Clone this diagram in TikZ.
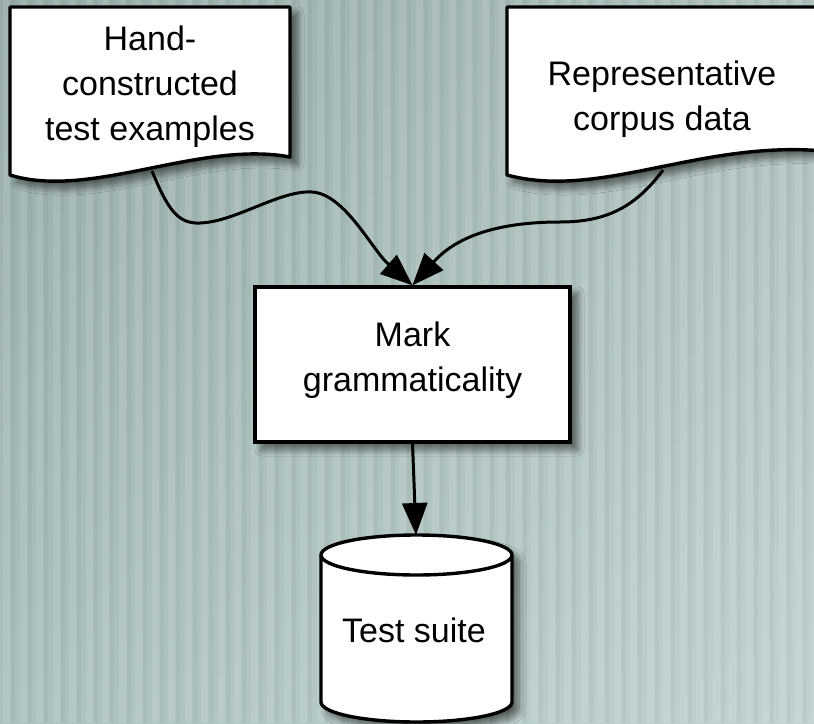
\documentclass[tikz,border=0pt]{standalone}
\usepackage{fontspec}
\setmainfont{Liberation Sans}
\usetikzlibrary{arrows.meta,shadows.blur,shadings}
\definecolor{bgUL}{HTML}{97ACAA}
\definecolor{bgUR}{HTML}{ADC0BE}
\definecolor{bgLL}{HTML}{ABC1BF}
\definecolor{bgLR}{HTML}{C1D3D1}
\tikzset{
  shade box/.style={blur shadow={shadow xshift=7pt, shadow yshift=-7pt, shadow blur radius=7pt, shadow blur steps=12, shadow opacity=55}},
  docshape/.style={fill=white, draw=black, line width=3.4pt, line join=round, shade box},
  procbox/.style={rectangle, fill=white, draw=black, line width=3.4pt, minimum width=315pt, minimum height=155pt, inner sep=0pt, shade box},
  txt/.style={font=\fontsize{34}{45}\selectfont, align=center, inner sep=0pt},
  flow/.style={draw=black, line width=3pt, -{Triangle[length=32pt,width=25pt]}},
}
\begin{document}
\begin{tikzpicture}[x=1pt,y=-1pt]
\useasboundingbox (0,0) rectangle (814,723);
% background
\shade[upper left=bgUL, upper right=bgUR, lower left=bgLL, lower right=bgLR] (0,0) rectangle (814,723);
\foreach \i in {0,...,49} {
  \fill[white, opacity=0.10] (\i*16.5+3,0) rectangle ++(7,723);
  \fill[black, opacity=0.03] (\i*16.5+11,0) rectangle ++(4,723);
}
% documents
\path[docshape] (10,7) -- (290,7) -- (290,157) .. controls (200,140) and (90,200) .. (10,175) -- cycle;
\node[txt] (hand) at (150,87) {Hand-\\constructed\\test examples};
\path[docshape] (507,7) -- (824,7) -- (824,151) .. controls (700,140) and (600,200) .. (507,175) -- cycle;
\node[txt] (corpus) at (662,99) {Representative\\corpus data};
\coordinate (ls) at (152,171);
\coordinate (rs) at (663,170);
% process box
\node[procbox] (mark) at (412.5,364.5) {};
\node[txt] (marktext) at (412.5,360) {Mark\\grammaticality};
% cylinder
\path[docshape] (321,555) -- (321,702) arc[start angle=180, end angle=0, x radius=95.5, y radius=20] -- (512,555) arc[start angle=0, end angle=-180, x radius=95.5, y radius=20] -- cycle;
\draw[line width=3.4pt] (321,555) arc[start angle=180, end angle=0, x radius=95.5, y radius=20];
\coordinate (ct) at (416,535);
\node[txt] (suite) at (414,630) {Test suite};
% connectors
\draw[flow] (ls) .. controls (168,210) and (178,224) .. (200,223)
  .. controls (235,222) and (280,190) .. (312,192)
  .. controls (345,194) and (372,250) .. (mark.north);
\draw[flow] (rs) .. controls (635,208) and (605,222) .. (560,222)
  .. controls (480,222) and (448,246) .. (mark.north);
\draw[flow] (mark.south) -- (ct);
\end{tikzpicture}
\end{document}
